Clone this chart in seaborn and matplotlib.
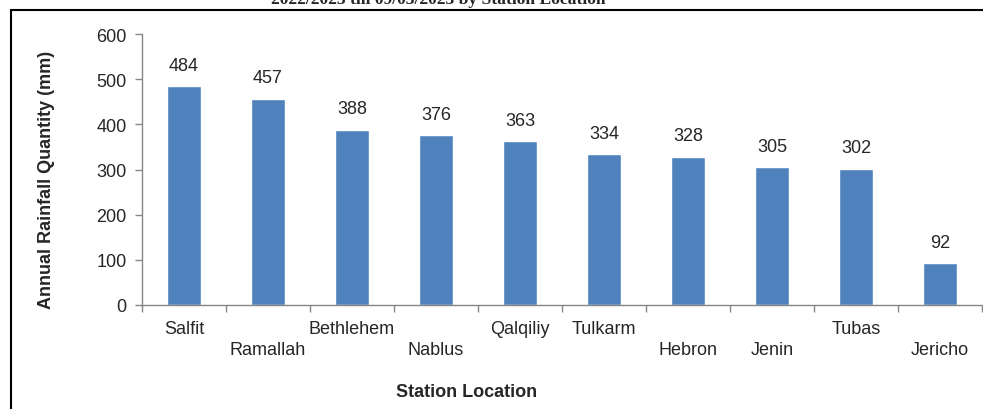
import matplotlib
matplotlib.use("Agg")
import matplotlib.pyplot as plt
import matplotlib.transforms as mtransforms
from matplotlib.patches import Rectangle
import seaborn as sns
import pandas as pd
import numpy as np

stations = ["Salfit", "Ramallah", "Bethlehem", "Nablus", "Qalqiliy",
            "Tulkarm", "Hebron", "Jenin", "Tubas", "Jericho"]
rainfall_mm = [484, 457, 388, 376, 363, 334, 328, 305, 302, 92]
label_row = [0, 1, 0, 1, 0, 0, 1, 1, 0, 1]
y_ticks = [0, 100, 200, 300, 400, 500, 600]

sns.set_style("white")
plt.rcParams["font.family"] = ["Liberation Sans", "DejaVu Sans"]

W, H = 983, 410
FS = 13
fig = plt.figure(figsize=(W / 100, H / 100), dpi=100)
ax = fig.add_axes([142 / W, 1 - 306 / H, (982 - 142) / W, (306 - 35) / H])

df = pd.DataFrame({"station": stations, "rain": rainfall_mm})
sns.barplot(data=df, x="station", y="rain", color="#4F81BD", saturation=1,
            width=0.4, ax=ax)

ax.set_ylim(0, 600)
ax.set_xlim(-0.5, len(stations) - 0.5)
ax.set_yticks(y_ticks)
ax.set_yticklabels([str(v) for v in y_ticks], fontsize=FS)

# category ticks sit between bars; labels are spread over two rows
ax.set_xticks(np.arange(-0.5, len(stations)), minor=True)
ax.tick_params(axis="x", which="minor", length=5, width=1, color="#868686",
               direction="out", bottom=True)
ax.tick_params(axis="x", which="major", length=0, pad=11, labelsize=FS)
ax.tick_params(axis="y", length=5, width=1, color="#868686", direction="out",
               left=True, pad=6)
for lab, row in zip(ax.get_xticklabels(), label_row):
    if row:
        lab.set_transform(lab.get_transform() +
                          mtransforms.ScaledTranslation(0, -21 / 100, fig.dpi_scale_trans))

for side in ["top", "right"]:
    ax.spines[side].set_visible(False)
for side in ["left", "bottom"]:
    ax.spines[side].set_color("#868686")
    ax.spines[side].set_linewidth(1)

ax.set_xlabel("")
ax.set_ylabel("")

for i, v in enumerate(rainfall_mm):
    ax.annotate(str(v), (i, v), xytext=(0, 9), textcoords="offset points",
                ha="center", va="bottom", fontsize=FS)

fig.text(47 / W, 1 - 180 / H, "Annual Rainfall Quantity (mm)", rotation=90,
         ha="center", va="center", fontsize=FS, fontweight="bold")
fig.text(467 / W, 1 - 393 / H, "Station Location", ha="center", va="center",
         fontsize=FS, fontweight="bold")

fig.text(438 / W, 1 - 4 / H, "2022/2023 till 09/03/2023 by Station Location",
         ha="center", va="baseline", fontsize=12.6, fontweight="bold",
         family=["Liberation Serif", "DejaVu Serif"])

# chart frame
fig.patches.append(Rectangle((11 / W, -0.2), 1.2, 1 - 11 / H + 0.2,
                             transform=fig.transFigure, fill=False,
                             edgecolor="black", linewidth=1.5, zorder=0))

fig.savefig("out.png", dpi=100)
